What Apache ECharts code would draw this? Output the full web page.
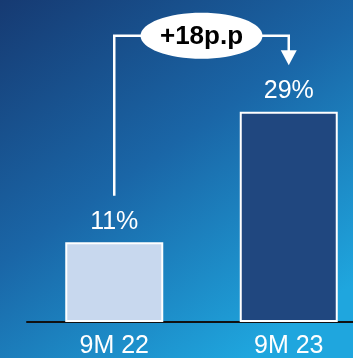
<!DOCTYPE html>
<html>
<head>
<meta charset="utf-8">
<script src="https://cdn.jsdelivr.net/npm/echarts@6/dist/echarts.min.js"></script>
<style>
  html, body { margin: 0; padding: 0; }
  #chart { width: 353px; height: 358px; }
</style>
</head>
<body>
<div id="chart"></div>
<script>
var categories = ['9M 22', '9M 23'];
var shares = [11, 29];
var barColors = ['#c8d8ee', '#20477f'];

var dom = document.getElementById('chart');
var myChart = echarts.init(dom);

var diff = shares[1] - shares[0];

// bracket with the change between the two periods
function renderBracket(params, api) {
    var start = api.coord([0, 17.4]);
    var topL = api.coord([0, 39.5]);
    var topR = api.coord([1, 39.5]);
    var tip = api.coord([1, 35.4]);
    var mx = (topL[0] + topR[0]) / 2;
    var my = topL[1];
    var rx = 61, ry = 23;
    var line = { stroke: '#fff', lineWidth: 2.5, fill: null };
    return {
        type: 'group',
        children: [
            { type: 'polyline', shape: { points: [start, topL, [mx - rx + 2, my]] }, style: line },
            { type: 'polyline', shape: { points: [[mx + rx - 2, my], topR, [topR[0], tip[1] - 14]] }, style: line },
            { type: 'polygon', shape: { points: [[tip[0] - 8, tip[1] - 15], [tip[0] + 8, tip[1] - 15], [tip[0], tip[1]]] }, style: { fill: '#fff' } },
            { type: 'ellipse', shape: { cx: mx, cy: my, rx: rx, ry: ry }, style: { fill: '#fff' } },
            {
                type: 'text',
                style: {
                    x: mx, y: my + 1,
                    text: '+' + diff + 'p.p',
                    font: 'bold 26px "Liberation Sans", Arial, sans-serif',
                    fill: '#000',
                    align: 'center',
                    verticalAlign: 'middle'
                }
            }
        ]
    };
}

var option = {
    backgroundColor: new echarts.graphic.LinearGradient(0, 0, 0.7, 1, [
        { offset: 0, color: '#163a72' },
        { offset: 0.5, color: '#1a66a7' },
        { offset: 1, color: '#1fa6de' }
    ]),
    textStyle: { fontFamily: '"Liberation Sans", Arial, sans-serif' },
    grid: { left: 27, width: 349, top: 32, bottom: 36, outerBoundsMode: 'none', containLabel: false },
    xAxis: {
        type: 'category',
        data: categories,
        axisLine: { lineStyle: { color: '#111', width: 2 } },
        axisTick: { show: false },
        axisLabel: { color: '#fff', fontSize: 25, margin: 12 }
    },
    yAxis: {
        type: 'value',
        min: 0,
        max: 40,
        show: false,
        splitLine: { show: false }
    },
    series: [{
        type: 'bar',
        barWidth: 98,
        data: shares.map(function (v, i) {
            return { value: v, itemStyle: { color: barColors[i] } };
        }),
        itemStyle: { borderColor: '#fff', borderWidth: 2 },
        label: {
            show: true,
            position: 'top',
            distance: 8,
            color: '#fff',
            fontSize: 25,
            formatter: '{c}%'
        }
    }, {
        type: 'custom',
        renderItem: renderBracket,
        data: [[0, 1]],
        clip: false,
        silent: true,
        z: 5
    }]
};

myChart.setOption(option, true);
</script>
</body>
</html>
